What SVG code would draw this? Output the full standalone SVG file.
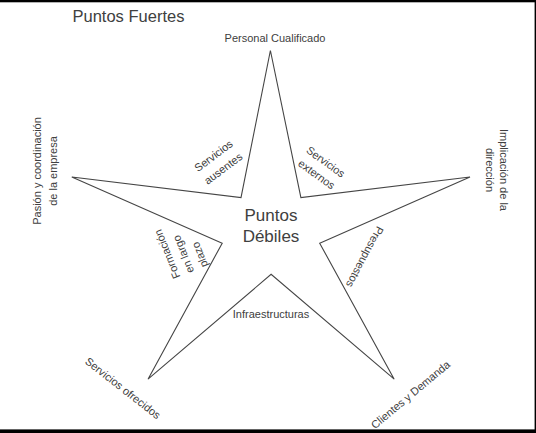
<svg xmlns="http://www.w3.org/2000/svg" width="536" height="433" viewBox="0 0 536 433">
<style>
text{font-family:"Liberation Sans",Arial,sans-serif;fill:#404040;}
.s{font-size:11px;}
.b{font-size:17px;}
.m{text-anchor:middle;}
.star{fill:none;stroke:#454545;stroke-width:1.1;stroke-linejoin:miter;}
</style>
<rect x="0" y="0" width="536" height="433" fill="#ffffff"/>
<g id="frame">
<rect x="0" y="0" width="536" height="2.3" fill="#000"/>
<rect x="534.6" y="0" width="1.4" height="433" fill="#000"/>
<rect x="0" y="429.4" width="536" height="3.6" fill="#000"/>
</g>
<g id="title"><text x="72.5" y="22.3" style="font-size:16.5px">Puntos Fuertes</text></g>
<g id="connectors">
<path class="star" d="M270.4,50.5 L300.9,197.6 L470,177 L319.7,243.2 L394.2,379.2 L271.1,274.3 L148,379.2 L222.2,243.2 L71.8,177 L241,197.6 Z"/>
</g>
<g id="center"><text class="b m" x="271" y="221">Puntos</text><text class="b m" x="271" y="242">Débiles</text></g>
<g id="n-top"><text class="s m" x="275" y="41.7">Personal Cualificado</text></g>
<g id="n-left" transform="translate(0,171) rotate(-90)"><text class="s m" x="0" y="41">Pasión y coordinación</text><text class="s m" x="0" y="57">de la empresa</text></g>
<g id="n-right" transform="translate(0,170) rotate(90)"><text class="s m" x="0" y="-499.5">Implicación de la</text><text class="s m" x="0" y="-486">dirección</text></g>
<g id="n-bl" transform="translate(120.5,391.2) rotate(38)"><text class="s m" x="0" y="0">Servicios ofrecidos</text></g>
<g id="n-br" transform="translate(412.9,397.6) rotate(-40)"><text class="s m" x="0" y="0">Clientes y Demanda</text></g>
<g id="w-ausentes" transform="translate(218.3,162) rotate(-37)"><text class="s m" x="0" y="-4">Servicios</text><text class="s m" x="0" y="12">ausentes</text></g>
<g id="w-externos" transform="translate(321.2,168) rotate(36)"><text class="s m" x="0" y="-3.8">Servicios</text><text class="s m" x="0" y="11.7">externos</text></g>
<g id="w-formacion" transform="translate(180.4,276.8) rotate(-112)"><text class="s" x="0" y="0">Formación</text><text class="s" x="0" y="15">en largo</text><text class="s" x="0" y="30">plazo</text></g>
<g id="w-presupuestos" transform="translate(361.5,255.1) rotate(118)"><text class="s m" x="0" y="0">Presupuestos</text></g>
<g id="w-infra"><text class="s m" x="271" y="318.3">Infraestructuras</text></g>
</svg>
